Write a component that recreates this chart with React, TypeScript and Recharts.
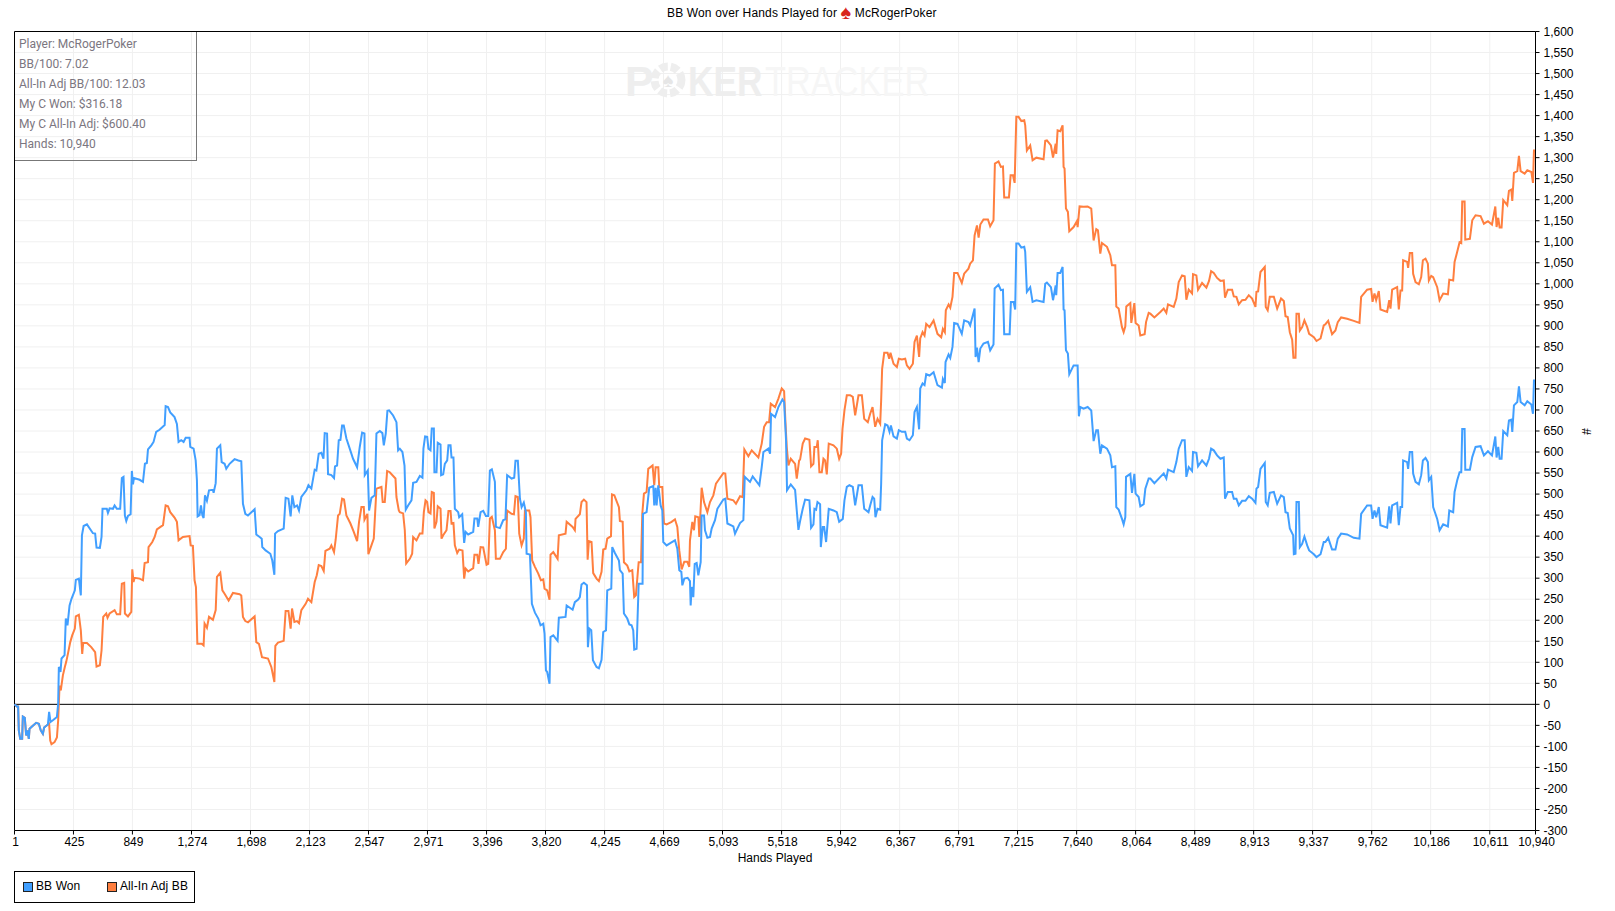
import * as React from "react";
import { LineChart, Line, XAxis, YAxis, CartesianGrid, ReferenceLine } from "recharts";

const handTicks = [1, 425, 849, 1274, 1698, 2123, 2547, 2971, 3396, 3820, 4245, 4669, 5093, 5518, 5942, 6367, 6791, 7215, 7640, 8064, 8489, 8913, 9337, 9762, 10186, 10611, 10940];
const bbTicks = [-300, -250, -200, -150, -100, -50, 0, 50, 100, 150, 200, 250, 300, 350, 400, 450, 500, 550, 600, 650, 700, 750, 800, 850, 900, 950, 1000, 1050, 1100, 1150, 1200, 1250, 1300, 1350, 1400, 1450, 1500, 1550, 1600];
const infoLines = ["Player: McRogerPoker", "BB/100: 7.02", "All-In Adj BB/100: 12.03", "My C Won: $316.18", "My C All-In Adj: $600.40", "Hands: 10,940"];

const wonHands = [
  1, 18, 27, 32, 42, 56, 61, 75, 85, 95, 104, 109, 133, 157, 176, 190, 205, 214, 241, 250, 260, 277, 306, 315,
  320, 332, 339, 361, 370, 382, 397, 411, 435, 442, 464, 478, 486, 498, 522, 565, 581, 591, 615, 627, 634, 665, 673, 685, 709, 721, 737, 761,
  773, 785, 795, 805, 817, 836, 845, 853, 860, 901, 925, 939, 953, 961, 985, 1001, 1020, 1044, 1081, 1088, 1105, 1121, 1152, 1169, 1181, 1200, 1217, 1232, 1260, 1265, 1289,
  1304, 1313, 1318, 1332, 1342, 1352, 1361, 1371, 1385, 1400, 1428, 1433, 1448, 1457, 1481, 1491, 1512, 1524, 1548, 1584, 1611, 1632, 1644, 1661, 1680, 1728, 1740, 1764, 1779, 1783, 1807, 1841, 1855, 1870,
  1875, 1896, 1937, 1951, 1971, 1987, 1999, 2014, 2033, 2047, 2064, 2100, 2115, 2136, 2160, 2172, 2189, 2208, 2223, 2232, 2249, 2256, 2280, 2299, 2306, 2321, 2333, 2345, 2357, 2369, 2388, 2412, 2436, 2465,
  2484, 2501, 2518, 2520, 2542, 2551, 2568, 2592, 2604, 2628, 2647, 2657, 2671, 2683, 2695, 2724, 2748, 2760,
  2772, 2791, 2806, 2815, 2832, 2856, 2868, 2892, 2916, 2935, 2942, 2954, 2969, 2978, 2993, 3002, 3017, 3021, 3036, 3045, 3065, 3069, 3084, 3096, 3113, 3122, 3137, 3144, 3158, 3168, 3192, 3199, 3221, 3235, 3245, 3264, 3300, 3309, 3329, 3336, 3353, 3372, 3391, 3408,
  3420, 3434, 3456, 3463, 3492, 3516, 3532, 3544, 3576, 3595, 3604, 3621, 3636, 3648, 3664, 3679, 3684, 3708, 3722, 3744, 3768, 3784, 3804, 3813, 3823, 3832, 3849, 3856, 3876, 3907, 3916, 3964, 3972, 4015, 4031, 4055, 4067, 4079, 4096, 4118, 4125, 4135, 4149, 4161, 4187, 4204, 4223, 4235, 4255, 4264, 4293, 4300, 4319, 4348, 4355, 4375, 4384, 4408, 4423, 4439, 4451, 4458, 4475, 4490, 4518,
  4521, 4547, 4566, 4595, 4602, 4612, 4619, 4631, 4648, 4660, 4667, 4691, 4720, 4751, 4768, 4782, 4797, 4804, 4818, 4842, 4859, 4864, 4871, 4883, 4893, 4907, 4919, 4936, 4943, 4960, 4967, 4984, 5003, 5015, 5039, 5056, 5099, 5113, 5128, 5171, 5183, 5200, 5219, 5243, 5253, 5291, 5310, 5358, 5375, 5387, 5423, 5435, 5442, 5471, 5495, 5524, 5536, 5550, 5557, 5584, 5615, 5627, 5639, 5651,
  5670, 5687, 5718, 5730, 5747, 5754, 5766, 5776, 5795, 5800, 5814, 5824, 5838, 5857, 5891, 5915, 5932, 5958, 5970, 5987, 6006, 6030, 6047, 6071, 6095, 6112, 6143, 6155, 6172, 6184, 6193, 6208, 6227, 6234, 6241, 6263, 6280, 6294, 6304, 6323, 6347, 6361, 6383, 6407, 6419, 6438, 6462, 6474, 6491, 6507, 6515, 6532, 6546, 6558, 6582, 6611, 6639, 6671, 6678, 6692, 6697, 6719, 6731, 6747, 6759, 6783, 6814, 6831, 6862, 6874, 6906, 6913, 6923, 6935, 6947, 6970, 7002, 7018, 7042, 7050, 7078, 7095, 7110, 7119, 7158, 7167, 7186, 7198, 7206, 7222, 7242, 7263, 7270, 7282, 7306, 7323, 7350, 7402, 7414, 7426, 7455, 7470, 7489, 7493, 7503, 7522, 7539, 7546, 7553, 7563, 7577, 7587, 7618, 7647, 7656, 7666, 7690, 7719, 7745, 7762, 7781, 7793, 7810, 7822, 7858, 7882, 7894, 7918, 7925, 7942, 7966, 7978, 7990, 7995, 8026, 8038, 8055, 8064, 8086, 8098, 8122, 8134, 8158,
  8170, 8199, 8242, 8266, 8285, 8297, 8338, 8357, 8374, 8398, 8417, 8429, 8446, 8470, 8477, 8501, 8513, 8542, 8573, 8592, 8607, 8626, 8650, 8674, 8698, 8707, 8727, 8758, 8770, 8789, 8806, 8830, 8854, 8878, 8902, 8926, 8933, 8945, 8962, 8993, 9000, 9014, 9029, 9058, 9082, 9110, 9130, 9142, 9158, 9173, 9197, 9202, 9214, 9221, 9238, 9245, 9262, 9278, 9298, 9312, 9346, 9365, 9394, 9417, 9429, 9449, 9477, 9501, 9518, 9542, 9585, 9633, 9674, 9686, 9729, 9758, 9768, 9782, 9794, 9813, 9825, 9873, 9888, 9897, 9909, 9945, 9957, 9969, 9981, 9988, 10017, 10024, 10036, 10053, 10060, 10077, 10101, 10118, 10130, 10149, 10166, 10173, 10190, 10204, 10233, 10250, 10276, 10310, 10320, 10348, 10358, 10377, 10394, 10406, 10413, 10430, 10435, 10468, 10485, 10509, 10545, 10569, 10598, 10627, 10651, 10660, 10672, 10682, 10696, 10708, 10737, 10749, 10766, 10773, 10785, 10809, 10821, 10833, 10862, 10881, 10910, 10922, 10929, 10939,
];
const wonValues = [
  0, -5, -5, -62, -82, -82, -29, -32, -74, -62, -82, -58, -51, -44, -46, -62, -70, -55, -48, -18, -42, -38, -30, 1,
  89, 77, 109, 117, 204, 188, 235, 251, 271, 296, 299, 259, 402, 424, 428, 407, 406, 373, 372, 398, 465, 465, 455, 466, 465, 473, 465, 465,
  538, 541, 449, 436, 448, 452, 555, 523, 538, 534, 529, 572, 574, 606, 616, 624, 648, 653, 664, 709, 707, 694, 683, 667, 624, 628, 624, 634, 634, 612, 608,
  580, 533, 447, 450, 473, 450, 443, 497, 484, 509, 510, 503, 526, 608, 616, 576, 572, 560, 572, 583, 580, 578, 477, 453, 449, 464, 404, 398, 394, 374, 366, 358, 342, 308,
  406, 412, 418, 491, 489, 447, 497, 469, 473, 461, 493, 509, 521, 513, 558, 556, 596, 598, 584, 645, 644, 547, 545, 538, 566, 568, 628, 629, 663, 663, 632, 608, 584, 564,
  612, 646, 644, 545, 556, 461, 491, 497, 644, 650, 645, 616, 644, 698, 699, 687, 671, 604,
  608, 600, 568, 463, 473, 485, 527, 529, 543, 539, 608, 637, 636, 608, 604, 656, 656, 552, 552, 622, 618, 545, 547, 572, 580, 616, 616, 587, 587, 465, 457, 445, 452, 384, 410, 404, 410, 442, 442, 422, 457, 460, 448, 448,
  556, 559, 529, 422, 419, 438, 440, 545, 537, 539, 579, 579, 489, 469, 480, 457, 358, 356, 239, 218, 204, 188, 192, 168, 81, 77, 49, 160, 164, 151, 206, 208, 235, 225, 243, 249, 255, 285, 289, 283, 136, 180, 176, 105, 89, 86, 106, 172, 176, 271, 275, 374, 360, 342, 319, 311, 216, 204, 190, 188, 176, 130, 132, 287, 287,
  453, 457, 515, 519, 473, 515, 473, 521, 473, 461, 386, 378, 384, 390, 370, 319, 315, 283, 299, 301, 293, 235, 279, 255, 334, 336, 307, 338, 449, 449, 414, 396, 398, 418, 438, 465, 487, 489, 430, 423, 406, 418, 431, 438, 541, 529, 542, 521, 564, 600, 608, 596, 691, 683, 707, 725, 719, 628, 509, 523, 510, 461, 415, 436,
  465, 487, 485, 420, 428, 465, 463, 481, 476, 374, 422, 422, 386, 465, 461, 457, 434, 441, 485, 517, 521, 517, 473, 521, 521, 465, 457, 473, 493, 489, 445, 465, 463, 525, 628, 666, 663, 648, 663, 637, 632, 652, 648, 648, 632, 628, 640, 695, 707, 654, 751, 763, 759, 785, 782, 790, 759, 753, 774, 764, 814, 832, 824, 850, 907, 905, 881, 913, 909, 901, 941, 826, 848, 814, 846, 858, 862, 842, 856, 989, 998, 985, 986, 880, 880, 957, 957, 939, 1096, 1096, 1086, 1088, 1076, 981, 992, 957, 961, 957, 1000, 1003, 992, 961, 996, 973, 1026, 1026, 1040, 939, 937, 842, 834, 785, 806, 806, 685, 707, 703, 707, 699, 626, 652, 652, 596, 616, 608, 592, 564, 566, 469, 463, 441, 428, 445, 541, 548, 503, 548, 501, 493, 471, 476, 513, 537,
  537, 526, 541, 549, 537, 558, 552, 576, 608, 628, 628, 541, 564, 555, 600, 598, 566, 580, 568, 584, 608, 604, 592, 584, 587, 489, 505, 505, 489, 489, 473, 484, 484, 495, 489, 479, 513, 517, 560, 574, 481, 473, 503, 505, 477, 497, 493, 457, 455, 418, 402, 357, 358, 481, 481, 374, 382, 399, 378, 366, 357, 350, 357, 386, 386, 396, 368, 368, 394, 406, 404, 396, 394, 453, 473, 473, 441, 461, 445, 469, 426, 420, 471, 430, 473, 479, 426, 469, 469, 580, 576, 560, 600, 600, 549, 529, 523, 545, 580, 586, 576, 533, 541, 469, 441, 414, 428, 423, 461, 457, 505, 533, 552, 552, 655, 655, 558, 558, 588, 612, 614, 592, 602, 592, 637, 587, 612, 584, 584, 650, 640, 675, 677, 648, 711, 719, 756, 719, 711, 721, 713, 691, 770, 770,
];

const adjHands = [
  1, 18, 27, 32, 42, 56, 61, 75, 85, 95, 104, 109, 133, 157, 176, 190, 205, 214, 241, 250, 258, 267, 289, 306, 315, 325, 334, 349, 363,
  373, 385, 402, 416, 435, 442, 464, 478, 488, 495, 522, 553, 581, 591, 615, 627, 639, 661, 670, 685, 721, 737, 761, 773, 790, 795, 817, 841, 848, 857, 865, 901, 925, 937, 961, 965, 992, 1009, 1025, 1069, 1088, 1105, 1121, 1152, 1169, 1181, 1212, 1260, 1268, 1284, 1296, 1306, 1316, 1347, 1361, 1368, 1385, 1400, 1428, 1448, 1457, 1481, 1496, 1512, 1541, 1572, 1620, 1632, 1644, 1661, 1680, 1728, 1740, 1759, 1781, 1824, 1848, 1870,
  1877, 1896, 1937, 1951, 1971, 1987, 1997, 2014, 2033, 2047, 2064, 2095, 2112, 2136, 2160, 2175, 2189, 2208, 2225, 2237, 2268, 2280, 2299, 2311, 2328, 2340, 2357, 2371, 2388, 2417, 2441, 2465, 2479, 2496, 2513, 2518, 2539, 2546, 2568, 2585, 2604, 2640, 2649, 2664, 2681, 2700, 2741, 2748, 2765,
  2772, 2796, 2808, 2818, 2844, 2861, 2868, 2892, 2916, 2935, 2945, 2957, 2969, 2978, 2993, 3002, 3017, 3021, 3036, 3045, 3065, 3072, 3084, 3108, 3122, 3137, 3144, 3158, 3168, 3185, 3199, 3223, 3235, 3245, 3264, 3300, 3309, 3329, 3338, 3353, 3372, 3396, 3408,
  3420, 3434, 3456, 3463, 3492, 3516, 3535, 3544, 3576, 3593, 3604, 3621, 3631, 3648, 3664, 3672, 3703, 3712, 3724, 3744, 3768, 3787, 3804, 3813, 3832, 3849, 3856, 3876, 3907, 3916, 3964, 3972, 4015, 4031, 4036, 4067, 4079, 4096, 4115, 4123, 4132, 4151, 4163, 4187, 4204, 4223, 4235, 4252, 4264, 4291, 4298, 4315, 4348, 4355, 4375, 4384, 4408, 4423, 4444, 4458, 4470, 4490, 4507,
  4516, 4528, 4547, 4559, 4590, 4602, 4612, 4631, 4638, 4660, 4672, 4691, 4727, 4751, 4768, 4782, 4799, 4818, 4840, 4854, 4859, 4876, 4888, 4897, 4919, 4926, 4943, 4960, 4984, 5003, 5027, 5046, 5063, 5099, 5113, 5128, 5171, 5190, 5219, 5238, 5250, 5279, 5303, 5351, 5375, 5392, 5411, 5428, 5440, 5471, 5495, 5519, 5536, 5545, 5555, 5567, 5584, 5615, 5627, 5644, 5651,
  5670, 5687, 5718, 5730, 5747, 5754, 5771, 5778, 5790, 5807, 5819, 5831, 5843, 5857, 5891, 5915, 5932, 5946, 5956, 5970, 5987, 6011, 6030, 6047, 6071, 6095, 6112, 6138, 6155, 6172, 6191, 6208, 6227, 6234, 6241, 6256, 6280, 6292, 6301, 6323, 6347, 6361, 6383, 6407, 6419, 6438, 6462, 6474, 6491, 6507, 6515, 6532, 6546, 6558, 6582, 6611, 6639, 6666, 6678, 6692, 6699, 6719, 6731, 6747, 6759, 6783, 6814, 6831, 6862, 6874, 6894, 6906, 6923, 6935, 6947, 6970, 7002, 7018, 7042, 7052, 7078, 7095, 7110, 7119, 7153, 7165, 7182, 7194, 7206, 7222, 7242, 7263, 7270, 7282, 7306, 7323, 7350, 7402, 7414, 7426, 7455, 7470, 7489, 7493, 7503, 7522, 7539, 7546, 7553, 7563, 7577, 7587, 7618, 7642, 7647, 7661, 7690, 7719, 7745, 7762, 7781, 7793, 7810, 7822, 7858, 7882, 7894, 7918, 7925, 7942, 7966, 7978, 7990, 7997, 8026, 8033, 8055, 8064, 8086, 8098, 8129, 8139, 8158,
  8170, 8199, 8242, 8266, 8285, 8297, 8338, 8357, 8374, 8398, 8417, 8429, 8446, 8470, 8477, 8501, 8513, 8542, 8573, 8592, 8607, 8626, 8650, 8674, 8698, 8707, 8727, 8758, 8770, 8789, 8806, 8830, 8854, 8878, 8902, 8926, 8933, 8945, 8962, 8993, 9000, 9014, 9029, 9058, 9082, 9110, 9130, 9142, 9158, 9173, 9190, 9199, 9214, 9221, 9238, 9245, 9262, 9278, 9298, 9312, 9346, 9365, 9394, 9417, 9429, 9449, 9477, 9501, 9518, 9542, 9585, 9633, 9674, 9686, 9729, 9758, 9768, 9782, 9794, 9813, 9825, 9873, 9888, 9897, 9909, 9945, 9957, 9969, 9981, 9988, 10017, 10024, 10036, 10053, 10060, 10077, 10101, 10118, 10130, 10149, 10166, 10173, 10190, 10204, 10233, 10250, 10276, 10310, 10320, 10348, 10358, 10377, 10394, 10406, 10413, 10430, 10435, 10468, 10485, 10509, 10545, 10569, 10598, 10627, 10651, 10660, 10672, 10682, 10696, 10708, 10737, 10749, 10766, 10773, 10785, 10809, 10821, 10833, 10862, 10881, 10910, 10922, 10929, 10939,
];
const adjValues = [
  0, -5, -5, -62, -82, -82, -29, -32, -74, -62, -82, -58, -51, -44, -46, -62, -70, -55, -48, -46, -86, -95, -90, -79, -38, 45, 33, 69, 89,
  101, 120, 148, 164, 180, 209, 213, 176, 120, 146, 146, 136, 124, 90, 93, 128, 208, 216, 206, 216, 224, 214, 214, 287, 289, 216, 209, 220, 321, 291, 301, 299, 295, 336, 338, 374, 386, 398, 416, 426, 473, 471, 457, 444, 434, 390, 398, 400, 378, 377, 295, 279, 144, 144, 140, 192, 182, 208, 201, 224, 303, 313, 271, 263, 247, 265, 262, 259, 208, 198, 195, 209, 148, 144, 112, 109, 89, 53,
  139, 147, 151, 222, 222, 180, 228, 196, 198, 193, 224, 239, 251, 243, 291, 307, 331, 329, 317, 365, 370, 378, 362, 392, 449, 453, 489, 487, 449, 430, 410, 388, 434, 469, 469, 439, 453, 357, 378, 394, 513, 517, 481, 481, 555, 552, 537, 493, 461,
  457, 454, 414, 335, 346, 358, 398, 390, 406, 406, 457, 485, 481, 457, 454, 505, 503, 418, 434, 471, 465, 394, 402, 414, 460, 460, 430, 431, 378, 360, 368, 366, 299, 323, 316, 324, 356, 356, 334, 374, 373, 332, 334,
  442, 446, 414, 346, 346, 362, 370, 461, 453, 452, 495, 493, 406, 378, 394, 461, 461, 445, 342, 327, 311, 295, 297, 275, 271, 249, 356, 362, 346, 402, 406, 434, 422, 414, 441, 452, 481, 487, 481, 344, 388, 386, 312, 299, 293, 315, 368, 370, 394, 400, 499, 497, 469, 436, 434, 338, 330, 316, 319, 255, 259, 338, 338,
  453, 501, 505, 560, 568, 521, 564, 564, 517, 517, 430, 428, 434, 440, 422, 366, 321, 339, 339, 327, 390, 434, 414, 447, 445, 398, 515, 481, 457, 481, 497, 525, 533, 550, 549, 489, 485, 477, 495, 493, 606, 590, 604, 587, 620, 660, 671, 671, 715, 707, 727, 751, 745, 675, 612, 568, 584, 572, 537, 580, 582,
  620, 632, 629, 566, 572, 612, 612, 628, 552, 552, 584, 580, 547, 620, 616, 608, 584, 596, 655, 699, 735, 735, 731, 687, 735, 735, 679, 671, 691, 707, 660, 679, 667, 723, 798, 836, 836, 822, 836, 810, 802, 822, 820, 822, 806, 798, 810, 862, 877, 826, 870, 885, 877, 905, 897, 913, 881, 873, 893, 885, 937, 951, 943, 969, 1026, 1026, 1002, 1024, 1036, 1048, 1056, 1115, 1139, 1110, 1141, 1153, 1153, 1137, 1151, 1286, 1291, 1278, 1279, 1205, 1205, 1258, 1258, 1240, 1397, 1397, 1387, 1389, 1377, 1317, 1329, 1294, 1300, 1296, 1340, 1341, 1329, 1300, 1333, 1309, 1365, 1363, 1377, 1278, 1274, 1179, 1171, 1125, 1135, 1149, 1135, 1184, 1183, 1184, 1179, 1103, 1130, 1127, 1072, 1097, 1088, 1068, 1044, 1044, 946, 941, 897, 885, 899, 946, 954, 907, 954, 907, 901, 877, 880, 909, 931,
  929, 920, 933, 941, 931, 951, 945, 965, 1004, 1020, 1018, 962, 986, 977, 1023, 1020, 986, 1002, 991, 1007, 1030, 1026, 1014, 1007, 1008, 967, 986, 986, 970, 969, 951, 961, 962, 973, 965, 945, 981, 982, 1028, 1040, 945, 937, 969, 969, 941, 965, 959, 923, 921, 885, 867, 824, 824, 929, 929, 889, 897, 913, 897, 881, 873, 864, 870, 901, 904, 912, 880, 889, 909, 920, 917, 912, 907, 969, 986, 988, 957, 977, 961, 983, 939, 933, 961, 941, 986, 992, 939, 984, 984, 1056, 1052, 1038, 1073, 1073, 1024, 1004, 999, 1016, 1056, 1060, 1048, 1008, 1019, 1016, 992, 961, 977, 975, 1010, 1008, 1052, 1076, 1099, 1097, 1196, 1196, 1105, 1107, 1151, 1163, 1161, 1143, 1149, 1141, 1184, 1135, 1157, 1134, 1134, 1199, 1187, 1221, 1224, 1197, 1264, 1268, 1304, 1268, 1262, 1270, 1266, 1240, 1317, 1317,
];

const wonSeries = wonHands.map((hand, i) => ({ hand, bb: wonValues[i] }));
const adjSeries = adjHands.map((hand, i) => ({ hand, bb: adjValues[i] }));

const BLUE = "#419fff";
const ORANGE = "#ff7f3f";
const GRID = "#f0f0f0";
const AXIS_FONT = "'Liberation Sans', Arial, sans-serif";

function Watermark() {
  return (
    <svg width={340} height={50} style={{ position: "absolute", left: 610, top: 55, pointerEvents: "none" }}>
      <text x={15} y={41} fontFamily={AXIS_FONT} fontWeight="bold" fontSize={43} fill="#eeeeee">P</text>
      <circle cx={58} cy={25} r={13.5} fill="none" stroke="#eeeeee" strokeWidth={8} strokeDasharray="8 3" />
      <text x={58} y={32} textAnchor="middle" fontSize={20} fill="#e6e6e6">♠</text>
      <text transform="translate(78 41) scale(0.82 1)" fontFamily={AXIS_FONT} fontWeight="bold" fontSize={43} fill="#eeeeee">KER</text>
      <text transform="translate(155 41) scale(0.8 1)" fontFamily={AXIS_FONT} fontSize={43} fill="#f6f6f6">TRACKER</text>
    </svg>
  );
}

function InfoBox() {
  return (
    <div style={{ position: "absolute", left: 15, top: 32, width: 182, height: 129, borderRight: "1px solid #777", borderBottom: "1px solid #777", fontFamily: "Roboto, sans-serif", fontSize: 12, color: "#7b7680", paddingLeft: 4, paddingTop: 2, boxSizing: "border-box" }}>
      {infoLines.map((line) => (
        <div key={line} style={{ height: 20, lineHeight: "20px" }}>{line}</div>
      ))}
    </div>
  );
}

function LegendBox() {
  const swatch = (left: number, color: string) => (
    <span style={{ position: "absolute", left, top: 10, width: 8, height: 8, background: color, border: "1px solid #222" }} />
  );
  const label = (left: number, text: string) => (
    <span style={{ position: "absolute", left, top: 7, lineHeight: "15px", letterSpacing: 0.1 }}>{text}</span>
  );
  return (
    <div style={{ position: "absolute", left: 14, top: 871, width: 181, height: 32, border: "1px solid #000", boxSizing: "border-box", fontFamily: AXIS_FONT, fontSize: 12, color: "#000" }}>
      {swatch(8, BLUE)}
      {label(21, "BB Won")}
      {swatch(92, ORANGE)}
      {label(105, "All-In Adj BB")}
    </div>
  );
}

export default function App() {
  return (
    <div style={{ position: "absolute", left: 0, top: 0, width: 1615, height: 911, background: "#fff", overflow: "hidden" }}>
      <div style={{ position: "absolute", left: 667, top: 6, whiteSpace: "nowrap", fontFamily: AXIS_FONT, fontSize: 12, lineHeight: "15px", color: "#000", letterSpacing: 0.15 }}>
        BB Won over Hands Played for <span style={{ color: "#d8261c", fontSize: 20, lineHeight: "12px", verticalAlign: -2 }}>♠</span> McRogerPoker
      </div>
      <LineChart width={1615} height={911} margin={{ top: 31.5, right: 0, bottom: 0, left: 14.5 }}>
        <CartesianGrid stroke={GRID} horizontalValues={bbTicks} verticalValues={handTicks} />
        <XAxis
          type="number"
          dataKey="hand"
          domain={[1, 10940]}
          ticks={handTicks}
          interval={0}
          height={80.5}
          stroke="#000"
          tickSize={4}
          tickMargin={3}
          tick={{ fill: "#000", fontSize: 12, fontFamily: AXIS_FONT, dx: 1 }}
          tickFormatter={(v: number) => v.toLocaleString("en-US")}
          allowDuplicatedCategory={false}
          label={{ value: "Hands Played", position: "insideTop", offset: 23, fill: "#000", fontSize: 12, fontFamily: AXIS_FONT }}
        />
        <YAxis
          type="number"
          orientation="right"
          domain={[-300, 1600]}
          ticks={bbTicks}
          interval={0}
          width={79.5}
          stroke="#000"
          tickSize={4}
          tickMargin={4}
          tick={{ fill: "#000", fontSize: 12, fontFamily: AXIS_FONT }}
          tickFormatter={(v: number) => v.toLocaleString("en-US")}
          label={{ value: "#", angle: 90, position: "insideRight", offset: 29, dy: 4, fill: "#000", fontSize: 12, fontFamily: AXIS_FONT }}
        />
        <ReferenceLine y={0} stroke="#000" />
        <ReferenceLine y={1600} stroke="#000" />
        <ReferenceLine x={1} stroke="#000" />
        <Line data={adjSeries} dataKey="bb" name="All-In Adj BB" type="linear" stroke={ORANGE} strokeWidth={2} dot={false} isAnimationActive={false} />
        <Line data={wonSeries} dataKey="bb" name="BB Won" type="linear" stroke={BLUE} strokeWidth={2} dot={false} isAnimationActive={false} />
      </LineChart>
      <Watermark />
      <InfoBox />
      <LegendBox />
    </div>
  );
}
